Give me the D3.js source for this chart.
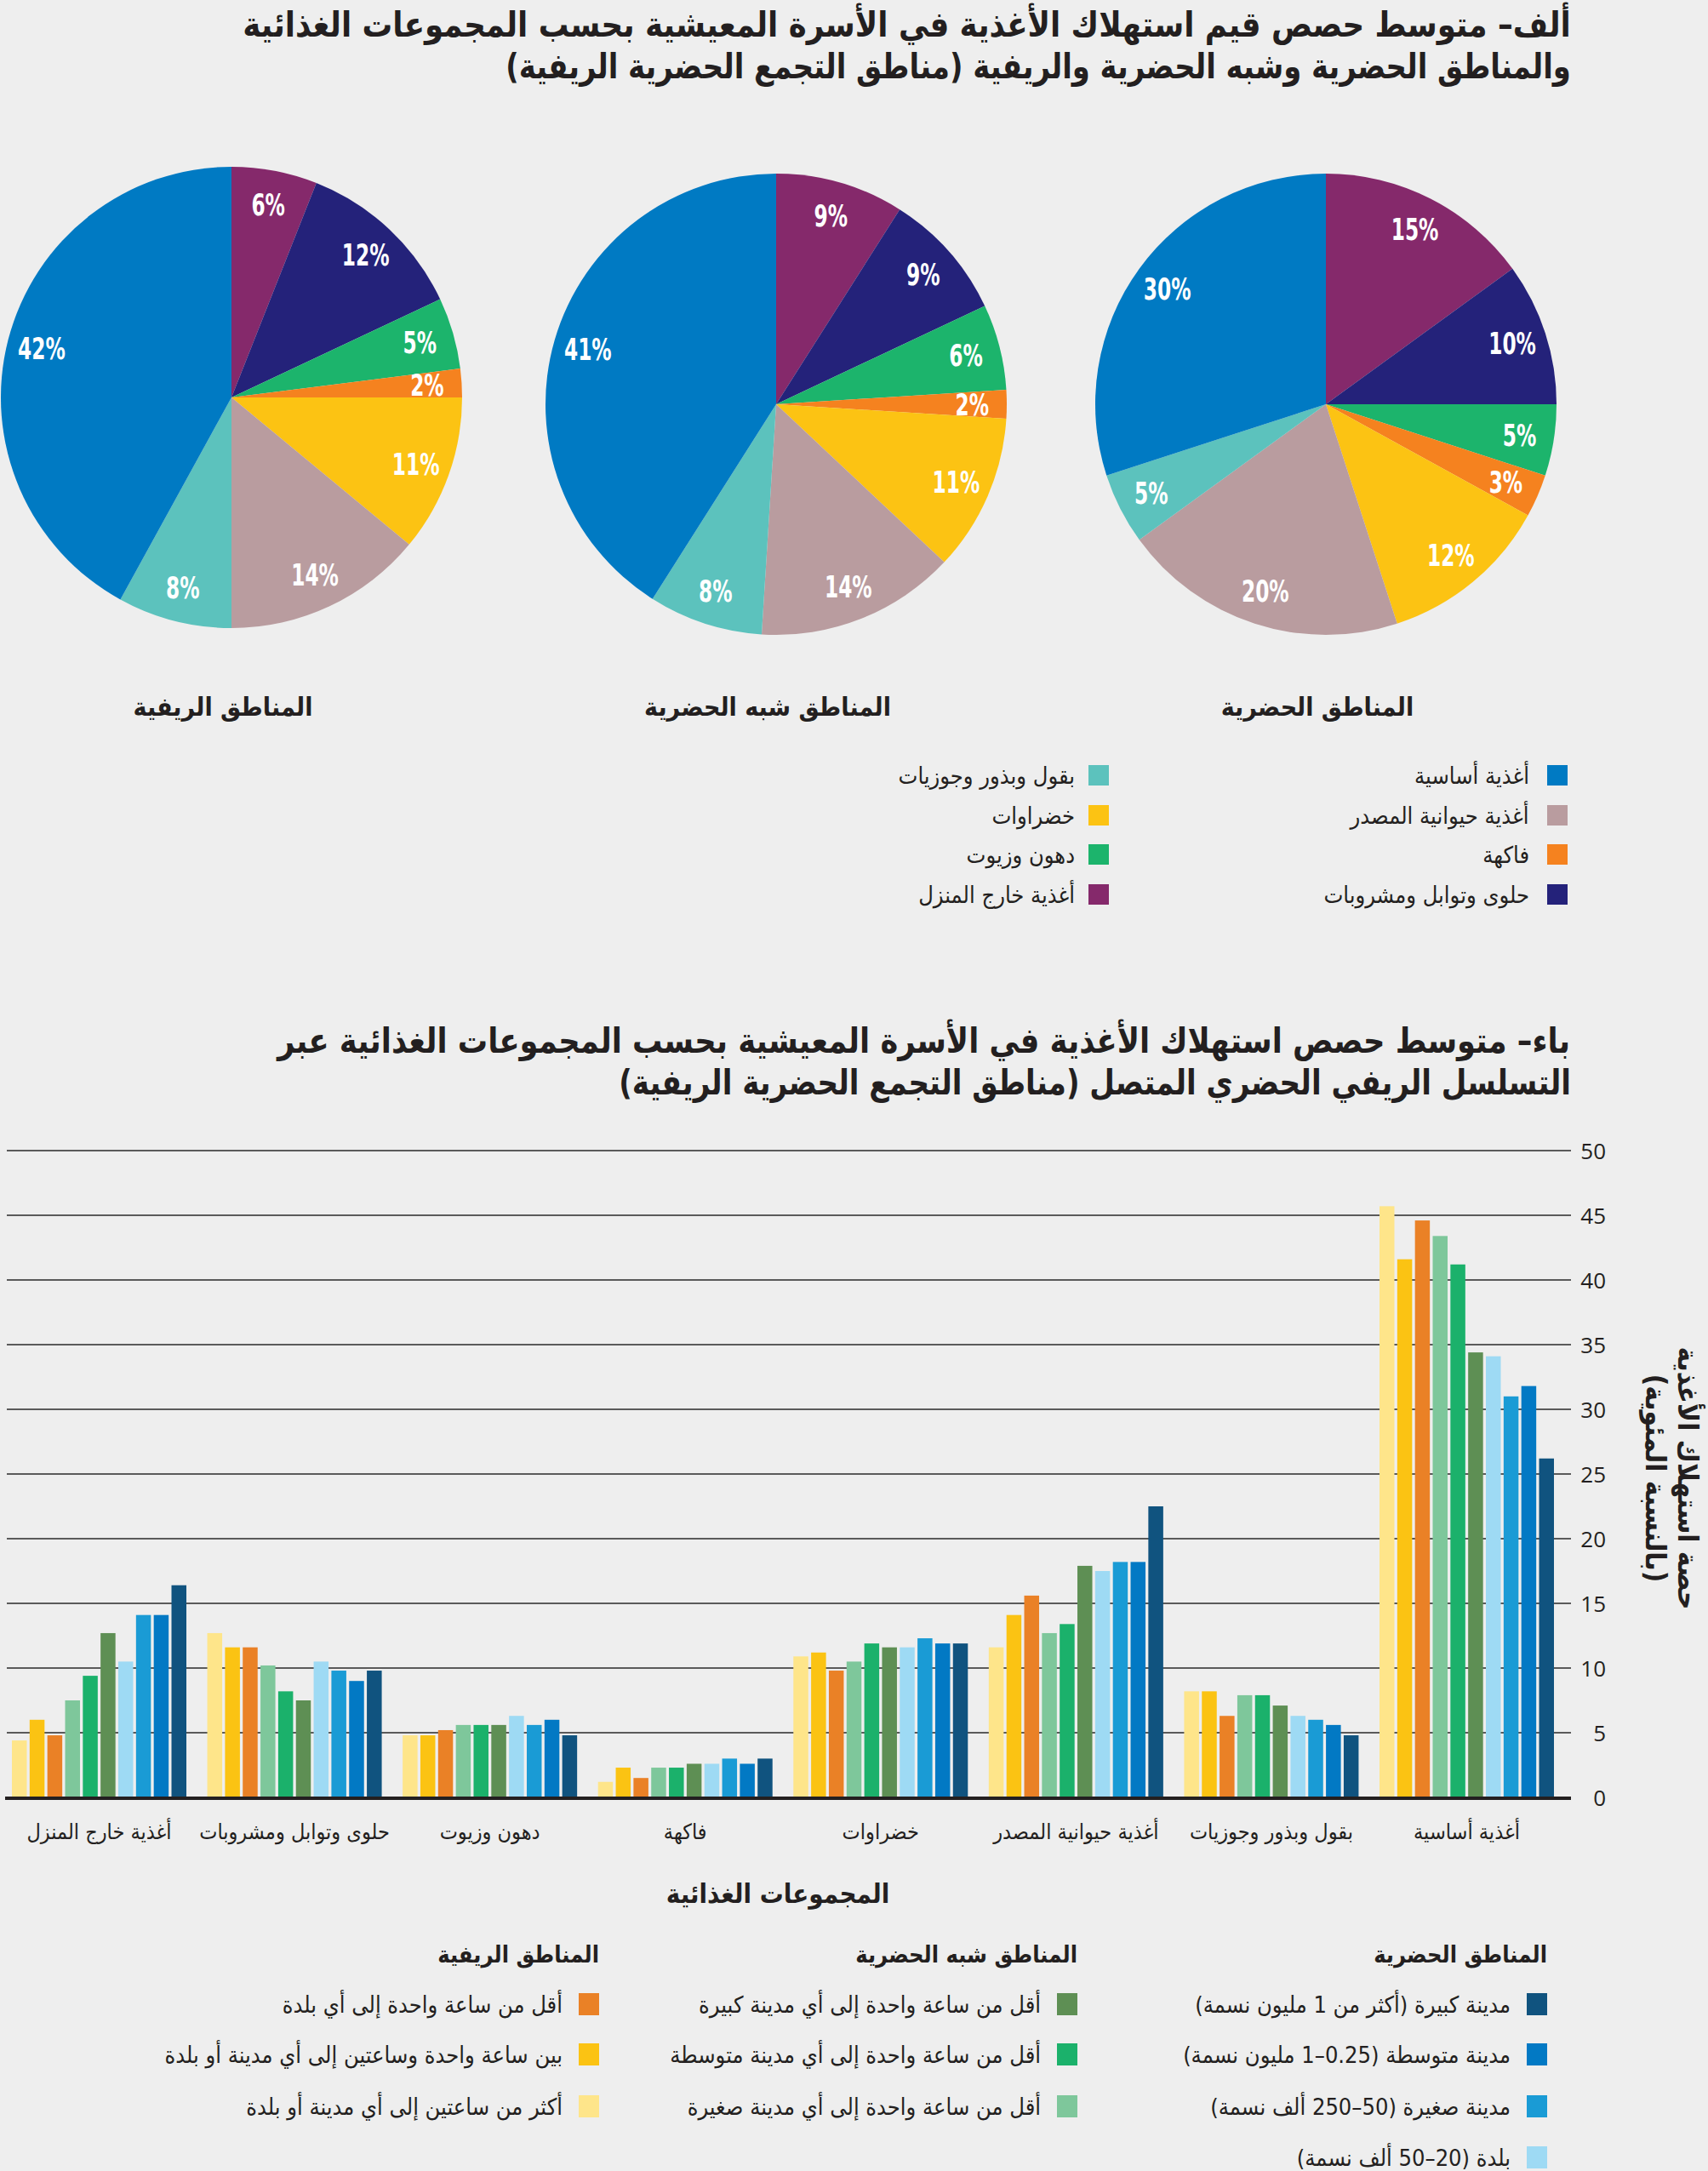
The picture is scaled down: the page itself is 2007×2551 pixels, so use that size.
<!DOCTYPE html>
<html>
<head>
<meta charset="utf-8">
<script src="https://cdn.jsdelivr.net/npm/d3@7"></script>
<style>
  body { margin:0; background:#eeeeee; }
  svg { display:block; }
</style>
</head>
<body>
<svg id="chart" width="2007" height="2551"></svg>
<script>
// ---------------- DATA ----------------
// Pie (panel A): slices clockwise from 12 o'clock
const pieGroups = ["أغذية خارج المنزل","حلوى وتوابل ومشروبات","دهون وزيوت","فاكهة","خضراوات","أغذية حيوانية المصدر","بقول وبذور وجوزيات","أغذية أساسية"];
const pieColors = ["#85296b","#24227a","#1cb46c","#f5821f","#fcc313","#b99c9f","#5cc2bd","#007ac3"];
const pieRural    = [6, 12, 5, 2, 11, 14, 8, 42];
const pieSuburban = [9, 9, 6, 2, 11, 14, 8, 41];
const pieUrban    = [15, 10, 5, 3, 12, 20, 5, 30];
const pieTitles = ["المناطق الريفية","المناطق شبه الحضرية","المناطق الحضرية"];

// Legend A (two columns, right column first)
const legendARight = ["أغذية أساسية","أغذية حيوانية المصدر","فاكهة","حلوى وتوابل ومشروبات"];
const legendALeft  = ["بقول وبذور وجوزيات","خضراوات","دهون وزيوت","أغذية خارج المنزل"];

// Bar chart (panel B): categories left -> right
const barCategories = ["أغذية خارج المنزل","حلوى وتوابل ومشروبات","دهون وزيوت","فاكهة","خضراوات","أغذية حيوانية المصدر","بقول وبذور وجوزيات","أغذية أساسية"];
const barSeriesNames = [
  "أكثر من ساعتين إلى أي مدينة أو بلدة",
  "بين ساعة واحدة وساعتين إلى أي مدينة أو بلدة",
  "أقل من ساعة واحدة إلى أي بلدة",
  "أقل من ساعة واحدة إلى أي مدينة صغيرة",
  "أقل من ساعة واحدة إلى أي مدينة متوسطة",
  "أقل من ساعة واحدة إلى أي مدينة كبيرة",
  "بلدة (20–50 ألف نسمة)",
  "مدينة صغيرة (50–250 ألف نسمة)",
  "مدينة متوسطة (0.25–1 مليون نسمة)",
  "مدينة كبيرة (أكثر من 1 مليون نسمة)"
];
const barColors = ["#fee58a","#fbc313","#ea8126","#7ec79b","#1bb16b","#5e8f54","#9edaf4","#1a9bd5","#0279c4","#10537f"];
const sRuralOver2h   = [4.4, 12.7, 4.8, 1.2, 10.9, 11.6, 8.2, 45.7];
const sRural1to2h    = [6.0, 11.6, 4.8, 2.3, 11.2, 14.1, 8.2, 41.6];
const sRuralTown     = [4.8, 11.6, 5.2, 1.5, 9.8, 15.6, 6.3, 44.6];
const sPeriSmall     = [7.5, 10.2, 5.6, 2.3, 10.5, 12.7, 7.9, 43.4];
const sPeriInter     = [9.4, 8.2, 5.6, 2.3, 11.9, 13.4, 7.9, 41.2];
const sPeriLarge     = [12.7, 7.5, 5.6, 2.6, 11.6, 17.9, 7.1, 34.4];
const sUrbTown       = [10.5, 10.5, 6.3, 2.6, 11.6, 17.5, 6.3, 34.1];
const sUrbSmall      = [14.1, 9.8, 5.6, 3.0, 12.3, 18.2, 6.0, 31.0];
const sUrbInter      = [14.1, 9.0, 6.0, 2.6, 11.9, 18.2, 5.6, 31.8];
const sUrbLarge      = [16.4, 9.8, 4.8, 3.0, 11.9, 22.5, 4.8, 26.2];
const barSeriesValues = [sRuralOver2h, sRural1to2h, sRuralTown, sPeriSmall, sPeriInter, sPeriLarge, sUrbTown, sUrbSmall, sUrbInter, sUrbLarge];
const yTicks = [0,5,10,15,20,25,30,35,40,45,50];

// Legend B columns (right to left), indices into series
const legendBHeaders = ["المناطق الحضرية","المناطق شبه الحضرية","المناطق الريفية"];
const legendBCols = [[9,8,7,6],[5,4,3],[2,1,0]];

const titleA = ["ألف– متوسط حصص قيم استهلاك الأغذية في الأسرة المعيشية بحسب المجموعات الغذائية",
                "والمناطق الحضرية وشبه الحضرية والريفية (مناطق التجمع الحضرية الريفية)"];
const titleB = ["باء– متوسط حصص استهلاك الأغذية في الأسرة المعيشية بحسب المجموعات الغذائية عبر",
                "التسلسل الريفي الحضري المتصل (مناطق التجمع الحضرية الريفية)"];
const yTitle = ["حصة استهلاك الأغذية","(بالنسبة المئوية)"];
const xTitle = "المجموعات الغذائية";

// ---------------- DRAW ----------------
const AR = "'DejaVu Sans Condensed','DejaVu Sans',sans-serif";
const NUM = "'DejaVu Sans Condensed','DejaVu Sans',sans-serif";
const INK = "#231f20";
const svg = d3.select("#chart");
svg.append("rect").attr("width",2007).attr("height",2551).attr("fill","#eeeeee");

// helper: RTL text with right edge at xRight, optional fit to width
function rtlText(parent, str, xRight, y, size, weight, fill, targetW) {
  const g = parent.append("g");
  const t = g.append("text").text(str)
    .attr("direction","rtl").style("direction","rtl")
    .attr("text-anchor","middle").attr("dominant-baseline","central")
    .attr("font-family", AR).attr("font-size", size).attr("font-weight", weight)
    .attr("fill", fill);
  const w = t.node().getBBox().width;
  if (targetW) {
    g.attr("transform", `translate(${xRight - targetW/2},${y}) scale(${targetW/w},1)`);
  } else {
    g.attr("transform", `translate(${xRight - w/2},${y})`);
  }
  return g;
}

// Titles
rtlText(svg, titleA[0], 1846, 29, 41, 700, INK, 1561);
rtlText(svg, titleA[1], 1846, 77, 41, 700, INK, 1252);
rtlText(svg, titleB[0], 1846, 1223, 41, 700, INK, 1521);
rtlText(svg, titleB[1], 1846, 1271, 41, 700, INK, 1119);

// Pies
const pieGen = d3.pie().sort(null).value(d => d);
const R = 271;
const arc = d3.arc().innerRadius(0).outerRadius(R);
const labelArc = d3.arc().innerRadius(R*0.85).outerRadius(R*0.85);
const pies = [
  {vals: pieRural, cx: 272, cy: 467, title: pieTitles[0]},
  {vals: pieSuburban, cx: 912, cy: 475, title: pieTitles[1]},
  {vals: pieUrban, cx: 1558, cy: 475, title: pieTitles[2]}
];
pies.forEach(p => {
  const g = svg.append("g").attr("transform", `translate(${p.cx},${p.cy})`);
  const arcs = pieGen(p.vals);
  g.selectAll("path").data(arcs).join("path")
    .attr("d", arc).attr("fill", (d,i) => pieColors[i]);
  g.selectAll("g.lbl").data(arcs).join("g").attr("class","lbl")
    .attr("transform", d => `translate(${labelArc.centroid(d)[0]},${labelArc.centroid(d)[1]}) scale(0.74,1)`)
    .append("text")
    .attr("text-anchor","middle").attr("dominant-baseline","central")
    .attr("font-family", NUM).attr("font-size", 35).attr("font-weight", 700)
    .attr("fill","#ffffff")
    .text(d => d.data + "%");
  svg.append("text").text(p.title)
    .attr("direction","rtl").style("direction","rtl")
    .attr("x", p.cx - 10).attr("y", 830)
    .attr("text-anchor","middle").attr("dominant-baseline","central")
    .attr("font-family", AR).attr("font-size", 30).attr("font-weight", 700).attr("fill", INK);
});

// Legend A
const legARows = [911, 958, 1004, 1051];
legendARight.forEach((name, i) => {
  const ci = pieGroups.indexOf(name);
  svg.append("rect").attr("x",1818).attr("y",legARows[i]-12).attr("width",24).attr("height",24).attr("fill",pieColors[ci]);
  rtlText(svg, name, 1797, legARows[i], 27, 400, INK);
});
legendALeft.forEach((name, i) => {
  const ci = pieGroups.indexOf(name);
  svg.append("rect").attr("x",1279).attr("y",legARows[i]-12).attr("width",24).attr("height",24).attr("fill",pieColors[ci]);
  rtlText(svg, name, 1263, legARows[i], 27, 400, INK);
});

// Bar chart
const x0 = d3.scaleBand().domain(barCategories).range([14, 1826]).paddingInner(0.107).paddingOuter(0);
const x1 = d3.scaleBand().domain(d3.range(barSeriesValues.length)).range([0, x0.bandwidth()]).paddingInner(0.16).paddingOuter(0);
const y = d3.scaleLinear().domain([0, 50]).range([2112, 1352]);

const grid = svg.append("g");
grid.selectAll("line").data(yTicks.filter(t => t > 0)).join("line")
  .attr("x1", 8).attr("x2", 1846)
  .attr("y1", d => y(d)).attr("y2", d => y(d))
  .attr("stroke", "#5a5a5a").attr("stroke-width", 2);

const yAxis = d3.axisRight(y).tickValues(yTicks).tickSize(0).tickPadding(0);
const ya = svg.append("g").attr("transform", "translate(1887,0)").call(yAxis);
ya.select(".domain").remove();
ya.selectAll("text")
  .attr("x", 0).attr("text-anchor","end").attr("dy","0.35em")
  .attr("font-family","'Open Sans','Noto Sans',sans-serif").attr("font-size", 26).attr("fill", INK);

const groups = svg.append("g").selectAll("g").data(barCategories).join("g")
  .attr("transform", d => `translate(${x0(d)},0)`);
groups.selectAll("rect")
  .data((cat, ci) => barSeriesValues.map((s, si) => ({si, v: s[ci]})))
  .join("rect")
  .attr("x", d => x1(d.si))
  .attr("width", x1.bandwidth())
  .attr("y", d => y(d.v))
  .attr("height", d => y(0) - y(d.v))
  .attr("fill", d => barColors[d.si]);

// zero baseline
svg.append("line").attr("x1", 6).attr("x2", 1846).attr("y1", y(0)+1).attr("y2", y(0)+1)
  .attr("stroke", INK).attr("stroke-width", 4);

// category labels
barCategories.forEach(c => {
  svg.append("text").text(c)
    .attr("direction","rtl").style("direction","rtl")
    .attr("x", x0(c) + x0.bandwidth()/2).attr("y", 2152)
    .attr("text-anchor","middle").attr("dominant-baseline","central")
    .attr("font-family", AR).attr("font-size", 25).attr("fill", INK);
});

// axis titles
svg.append("text").text(xTitle)
  .attr("direction","rtl").style("direction","rtl")
  .attr("x", 914).attr("y", 2225)
  .attr("text-anchor","middle").attr("dominant-baseline","central")
  .attr("font-family", AR).attr("font-size", 31).attr("font-weight", 700).attr("fill", INK);

const yt = svg.append("g").attr("transform", "translate(1964,1737) rotate(90)");
yTitle.forEach((s, i) => {
  yt.append("text").text(s)
    .attr("direction","rtl").style("direction","rtl")
    .attr("x", 0).attr("y", i === 0 ? -19 : 19)
    .attr("text-anchor","middle").attr("dominant-baseline","central")
    .attr("font-family", AR).attr("font-size", 33).attr("font-weight", 700).attr("fill", INK);
});

// Legend B
const legBRows = [2355, 2414, 2475, 2535];
const legBSwatchRight = [1818, 1266, 704];
legendBCols.forEach((col, ci) => {
  const xr = legBSwatchRight[ci];
  rtlText(svg, legendBHeaders[ci], xr, 2296, 27, 700, INK);
  col.forEach((si, ri) => {
    svg.append("rect").attr("x", xr - 24).attr("y", legBRows[ri] - 13).attr("width", 24).attr("height", 26).attr("fill", barColors[si]);
    rtlText(svg, barSeriesNames[si], xr - 43, legBRows[ri], 27, 400, INK);
  });
});
</script>
</body>
</html>
